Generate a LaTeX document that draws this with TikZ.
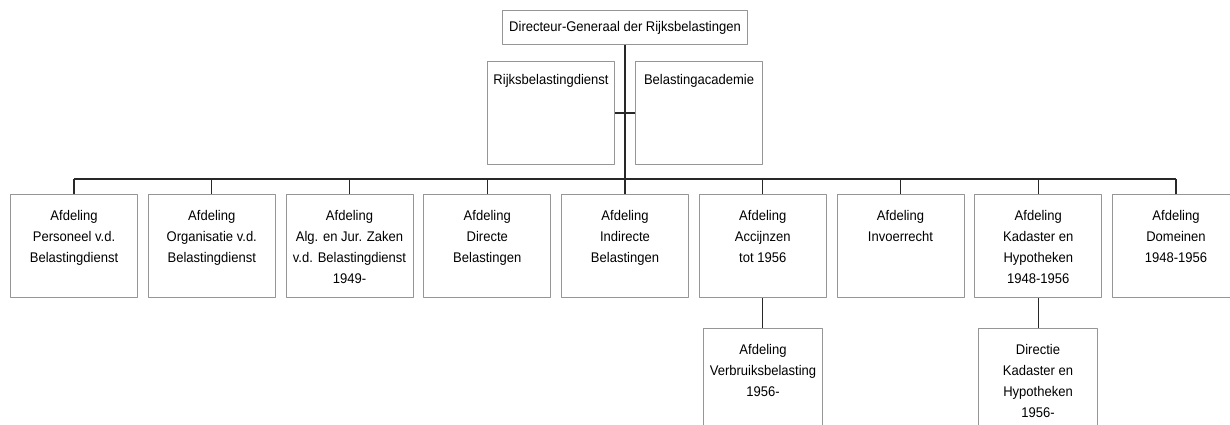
\documentclass[tikz,border=0pt]{standalone}
\usepackage{fontspec}
\setmainfont[FakeStretch=0.93]{Liberation Sans}
\definecolor{boxgray}{RGB}{150,150,150}
\definecolor{linegray}{RGB}{40,40,40}
% top aligned text in a box
\newlength{\utw}
\setlength{\utw}{125pt}
\newcommand{\utext}[2][81pt]{\parbox[c][#1][t]{\utw}{\centering\strut#2}}
\begin{document}
\begin{tikzpicture}[x=1pt,y=-1pt,line join=round]
		\tikzset{unit/.style={draw=boxgray,line width=1pt,inner xsep=1pt,inner ysep=11pt,
				minimum width=127pt,minimum height=103pt,anchor=north west,
				font=\fontsize{14}{21}\selectfont},
			sub/.style={unit,minimum width=119pt,inner xsep=0pt,
				execute at begin node={\setlength{\utw}{118pt}}},
			conn/.style={draw=linegray,line width=1.2pt}}
		\useasboundingbox (0,0) rectangle (1230,425);
		\clip (0,0) rectangle (1230,425);
		\node[unit,minimum width=245pt,minimum height=34pt,inner ysep=0pt] (dg) at (502,10)
			{Directeur-Generaal der Rijksbelastingen};
		\node[unit,inner ysep=8pt] (rbd) at (487,61) {\utext[87pt]{Rijksbelastingdienst}};
		\node[unit,inner ysep=8pt] (acad) at (635,61) {\utext[87pt]{Belastingacademie}};
		% afdelingen
		\foreach \nm/\txt [count=\i from 0] in {
			pers/{Afdeling\\Personeel v.d.\\Belastingdienst},
			org/{Afdeling\\Organisatie v.d.\\Belastingdienst},
			alg/{Afdeling\\Alg. en Jur. Zaken\\v.d. Belastingdienst\\1949-},
			dir/{Afdeling\\Directe\\Belastingen},
			indir/{Afdeling\\Indirecte\\Belastingen},
			accijns/{Afdeling\\Accijnzen\\tot 1956},
			invoer/{Afdeling\\Invoerrecht},
			kadaster/{Afdeling\\Kadaster en\\Hypotheken\\1948-1956},
			domein/{Afdeling\\Domeinen\\1948-1956}}{
			\pgfmathsetmacro\xl{10+137.75*\i}
			\node[unit] (\nm) at (\xl,194) {\utext{\txt}};
		}
		\node[sub] (verbruik) at (703,328) {\utext[81pt]{Afdeling\\Verbruiksbelasting\\1956-}};
		\node[sub] (dirkad) at (978,328) {\utext[81pt]{Directie\\Kadaster en\\Hypotheken\\1956-}};
		% lijnen
		\coordinate (bus) at (0,179);
		\draw[conn] (dg.south) -- (dg.south |- bus);
		\draw[conn] (rbd.east) -- (acad.west);
		\draw[conn] (pers.north |- bus) -- (domein.north |- bus);
		\foreach \nm in {pers,org,alg,dir,indir,accijns,invoer,kadaster,domein}
			\draw[conn] (\nm.north) -- (\nm.north |- bus);
		\draw[conn] (accijns.south) -- (accijns.south |- verbruik.north);
		\draw[conn] (kadaster.south) -- (kadaster.south |- dirkad.north);
\end{tikzpicture}
\end{document}
